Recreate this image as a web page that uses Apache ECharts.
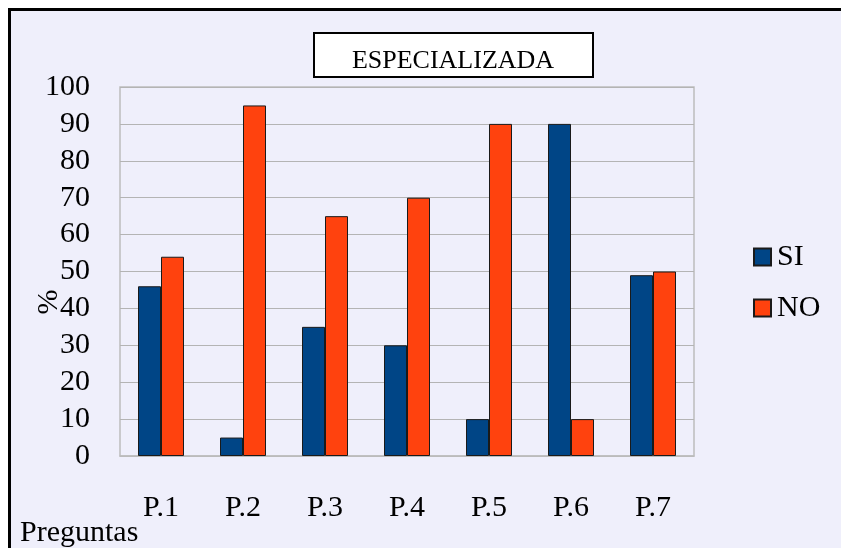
<!DOCTYPE html>
<html>
<head>
<meta charset="utf-8">
<script src="https://cdn.jsdelivr.net/npm/echarts@6/dist/echarts.min.js"></script>
<style>
html,body{margin:0;padding:0;background:#fff;width:841px;height:548px;overflow:hidden;}
#frame{position:absolute;left:8px;top:8px;width:833px;height:540px;border-left:3px solid #000;border-top:3px solid #000;background:#efeffb;}
#chart{position:absolute;left:0;top:0;width:841px;height:548px;}
</style>
</head>
<body>
<div id="frame"></div>
<div id="chart"></div>
<script>
const categories = ['P.1', 'P.2', 'P.3', 'P.4', 'P.5', 'P.6', 'P.7'];
const siValues = [46, 5, 35, 30, 10, 90, 49];
const noValues = [54, 95, 65, 70, 90, 10, 50];
const seriesNames = ['SI', 'NO'];
const titleText = 'ESPECIALIZADA';
const yAxisName = '%';
const xAxisName = 'Preguntas';

const serif = '"Liberation Serif", "DejaVu Serif", serif';
const chart = echarts.init(document.getElementById('chart'), null, {renderer: 'canvas'});
chart.setOption({
  backgroundColor: 'transparent',
  animation: false,
  grid: {left: 120, right: 147, top: 87, bottom: 92, show: true, backgroundColor: '#efeffb', borderColor: '#bdbdbd', borderWidth: 1.5},
  legend: {
    orient: 'vertical', left: 753, top: 242, padding: 0, itemWidth: 17, itemHeight: 17, itemGap: 21,
    icon: 'rect',
    textStyle: {fontFamily: serif, fontSize: 30, color: '#000', padding: [0, 0, 0, 1]},
    data: seriesNames
  },
  xAxis: {
    type: 'category', data: categories,
    axisLine: {show: true, lineStyle: {color: '#bdbdbd', width: 1.5}},
    axisTick: {show: false},
    axisLabel: {fontFamily: serif, fontSize: 30, color: '#000', margin: 37}
  },
  yAxis: {
    type: 'value', min: 0, max: 100, interval: 10,
    axisLine: {show: false}, axisTick: {show: false},
    splitLine: {lineStyle: {color: '#b4b4b4', width: 1.2}},
    axisLabel: {fontFamily: serif, fontSize: 30, color: '#000', margin: 30}
  },
  series: [
    {name: seriesNames[0], type: 'bar', data: siValues, barWidth: 23, barGap: '0%',
     itemStyle: {color: '#004586', borderColor: '#1a1a1a', borderWidth: 1}},
    {name: seriesNames[1], type: 'bar', data: noValues, barWidth: 23, barGap: '0%',
     itemStyle: {color: '#ff420e', borderColor: '#1a1a1a', borderWidth: 1}}
  ],
  graphic: [
    {type: 'rect', shape: {x: 314, y: 33, width: 279, height: 44}, style: {fill: '#fff', stroke: '#000', lineWidth: 2}, z: 10},
    {type: 'text', x: 453, y: 48, style: {text: titleText, fontFamily: serif, fontSize: 26, fill: '#000', align: 'center', verticalAlign: 'top'}, z: 11},
    {type: 'text', x: 49, y: 302, rotation: Math.PI / 2, style: {text: yAxisName, fontFamily: serif, fontSize: 30, fill: '#000', align: 'center', verticalAlign: 'middle'}, z: 11},
    {type: 'text', x: 20, y: 518, style: {text: xAxisName, fontFamily: serif, fontSize: 30, fill: '#000', align: 'left', verticalAlign: 'top'}, z: 11}
  ]
});
</script>
</body>
</html>
